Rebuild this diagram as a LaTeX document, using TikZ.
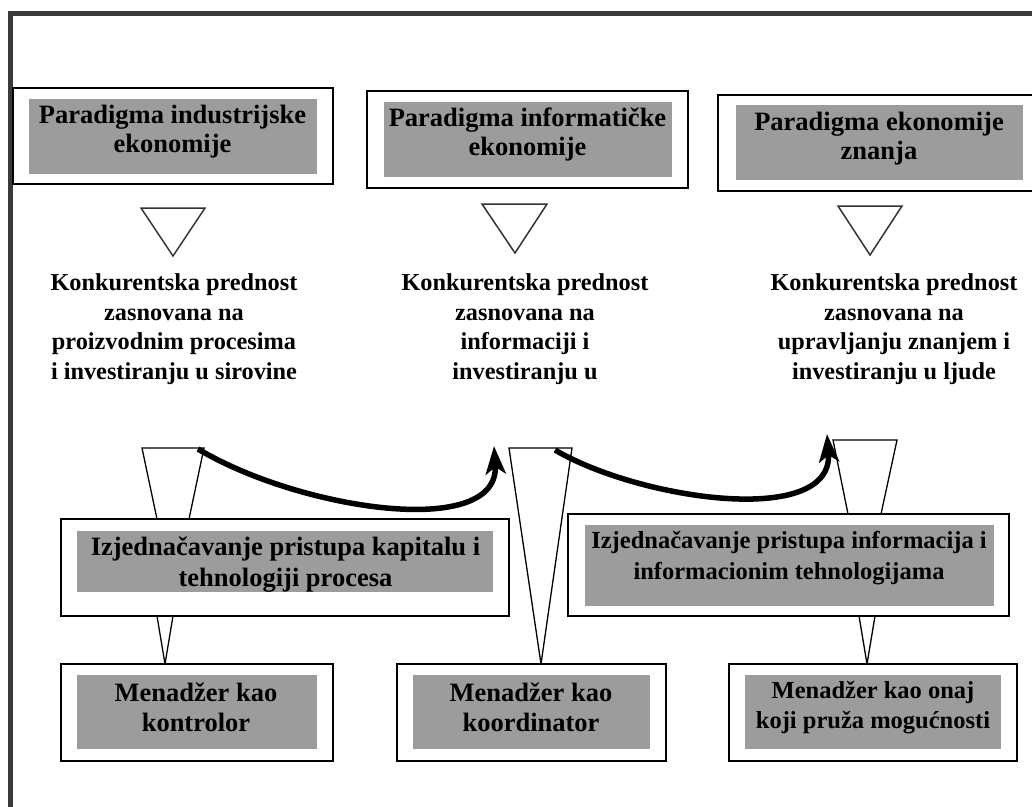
\documentclass[tikz,border=0pt]{standalone}
\usepackage{fontspec}
\setmainfont{Liberation Serif}
\usetikzlibrary{calc,arrows.meta}

\definecolor{framegray}{RGB}{58,58,58}
\definecolor{boxgray}{RGB}{156,156,156}
\newcommand{\topfont}{\fontsize{26.5}{29}\selectfont\bfseries}
\newcommand{\advfont}{\fontsize{24.3}{29.5}\selectfont\bfseries}
\newcommand{\lowfont}{\fontsize{26.5}{30.5}\selectfont\bfseries}
\newcommand{\lowsmallfont}{\fontsize{24.5}{30.5}\selectfont\bfseries}

\begin{document}
\begin{tikzpicture}[x=1pt,y=-1pt,
  outerbox/.style={draw,line width=1.8pt,fill=white,inner sep=0pt},
  graybox/.style={fill=boxgray,inner sep=0pt},
  boxtext/.style={align=center,inner sep=0pt,font=\topfont},
  advtext/.style={align=center,inner sep=0pt,font=\advfont},
  pointer/.style={draw=black!80,line width=1.5pt,fill=white,line join=miter},
  funnel/.style={draw,line width=1.3pt,fill=white,line join=miter},
  bigarrow/.style={line width=5.5pt,-{Stealth[length=28pt,width=20pt,inset=7pt]}}]

  \useasboundingbox (0,0) rectangle (1032,806);
  \clip (0,0) rectangle (1032,806);

  % frame (cut off at right and bottom)
  \draw[line width=5pt,framegray] (10.5,830) -- (10.5,13) -- (1050,13);

  % paradigms
  \node[outerbox,minimum width=320pt,minimum height=96pt] (par1) at (173,136) {};
  \node[graybox,minimum width=288pt,minimum height=75pt] (par1in) at (173,136.5) {};
  \node[boxtext] (par1txt) at (172.5,132) {Paradigma industrijske\\ekonomije};

  \node[outerbox,minimum width=321pt,minimum height=97pt] (par2) at (527.5,139.5) {};
  \node[graybox,minimum width=288pt,minimum height=75pt] (par2in) at (528,139.5) {};
  \node[boxtext] (par2txt) at (527.5,134.5) {Paradigma informatičke\\ekonomije};

  \node[outerbox,minimum width=322pt,minimum height=96pt] (par3) at (879,143) {};
  \node[graybox,minimum width=287pt,minimum height=75pt] (par3in) at (879.5,142.5) {};
  \node[boxtext] (par3txt) at (879,138.5) {Paradigma ekonomije\\znanja};

  % pointers under the paradigms
  \draw[pointer] (141,208) -- (205,208) -- (173,256) -- cycle;
  \draw[pointer] (482,204) -- (547,204) -- (515,253) -- cycle;
  \draw[pointer] (838,206) -- (902,206) -- (870,255) -- cycle;

  % competitive advantage
  \node[advtext] (adv1) at (174,329) {Konkurentska prednost\\zasnovana na\\proizvodnim procesima\\i investiranju u sirovine};
  \node[advtext] (adv2) at (525,329) {Konkurentska prednost\\zasnovana na\\informaciji i\\investiranju u};
  \node[advtext] (adv3) at (894,329) {Konkurentska prednost\\zasnovana na\\upravljanju znanjem i\\investiranju u ljude};

  % funnels
  \draw[funnel] (142,448) -- (204,448) -- (189,519) -- (157,519) -- cycle;
  \draw[funnel] (509,448) -- (572,448) -- (541,664) -- cycle;
  \draw[funnel] (833,440) -- (897,440) -- (881,514) -- (848,514) -- cycle;
  \draw[funnel] (157,616) -- (173,616) -- (165,664) -- cycle;
  \draw[funnel] (859,616) -- (875,616) -- (867,664) -- cycle;

  % shift arrows
  \coordinate (a1s) at (198,449);
  \coordinate (a1e) at (494,446);
  \coordinate (a2s) at (555,450);
  \coordinate (a2e) at (827,434);
  \draw[bigarrow] (a1s) .. controls (300,510) and (500,540) .. (a1e);
  \draw[bigarrow] (a2s) .. controls (640,500) and (834,528) .. (a2e);

  % leveling of access
  \node[outerbox,minimum width=448pt,minimum height=97pt] (eq1) at (285,567.5) {};
  \node[graybox,minimum width=416pt,minimum height=61pt] (eq1in) at (285,561.5) {};
  \node[boxtext,font=\lowfont] (eq1txt) at (285.5,564.5) {Izjednačavanje pristupa kapitalu i\\tehnologiji procesa};

  \node[outerbox,minimum width=441pt,minimum height=102pt] (eq2) at (788.5,565) {};
  \node[graybox,minimum width=409pt,minimum height=81pt] (eq2in) at (789.5,565.5) {};
  \node[boxtext,font=\lowsmallfont] (eq2txt) at (789,558) {Izjednačavanje pristupa informacija i\\informacionim tehnologijama};

  % manager roles
  \node[outerbox,minimum width=272pt,minimum height=97pt] (man1) at (197,712.5) {};
  \node[graybox,minimum width=240pt,minimum height=74pt] (man1in) at (197,712) {};
  \node[boxtext,font=\lowfont] (man1txt) at (196,707.5) {Menadžer kao\\kontrolor};

  \node[outerbox,minimum width=269pt,minimum height=97pt] (man2) at (531.5,712.5) {};
  \node[graybox,minimum width=237pt,minimum height=74pt] (man2in) at (531.5,712) {};
  \node[boxtext,font=\lowfont] (man2txt) at (531,707.5) {Menadžer kao\\koordinator};

  \node[outerbox,minimum width=288pt,minimum height=97pt] (man3) at (873,712.5) {};
  \node[graybox,minimum width=256pt,minimum height=74pt] (man3in) at (873,712) {};
  \node[boxtext,font=\lowsmallfont] (man3txt) at (873,707.5) {Menadžer kao onaj\\koji pruža mogućnosti};
\end{tikzpicture}
\end{document}
